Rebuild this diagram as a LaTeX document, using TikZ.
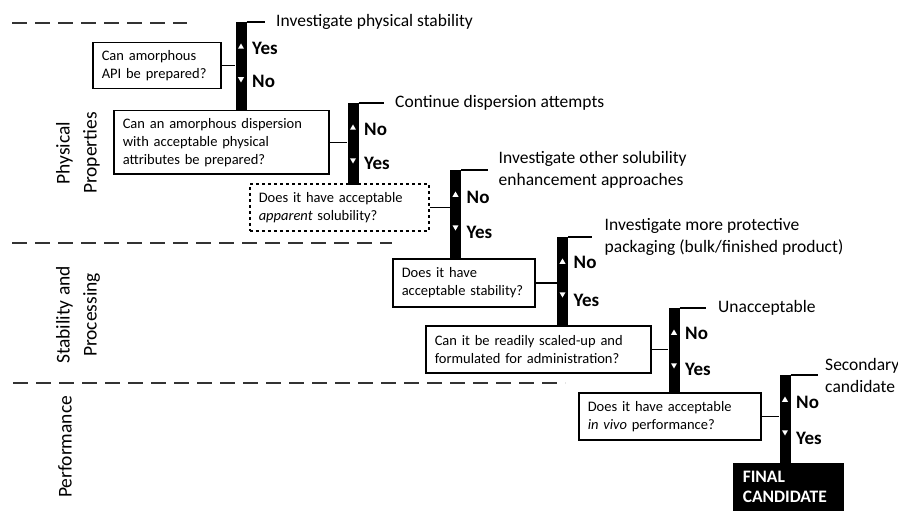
\documentclass[tikz,border=0pt]{standalone}
\usepackage{fontspec}
\setmainfont{Carlito}
\usetikzlibrary{positioning,shapes.geometric}
\definecolor{mygray}{rgb}{0.2, 0.2, 0.2}

\tikzset{
  qbox/.style={draw, line width=1.5pt, anchor=north west, align=left, inner xsep=9pt,
    font=\fontsize{14.5}{18}\selectfont},
  bar/.style={fill=black, minimum width=11pt, inner sep=0pt, anchor=north},
  link/.style={line width=1.5pt},
  result/.style={anchor=west, align=left, font=\fontsize{17.5}{22}\selectfont},
  ans/.style={anchor=west, font=\bfseries\fontsize{19}{19}\selectfont},
  tup/.style={regular polygon, regular polygon sides=3, fill=white, minimum size=7pt, inner sep=0pt},
  tdown/.style={tup, shape border rotate=180},
  section/.style={rotate=90, align=center, font=\fontsize{19.5}{27}\selectfont},
  split/.style={dashed, dash pattern=on 15pt off 8pt, line width=2pt, mygray}
}

\begin{document}
\begin{tikzpicture}[x=1pt, y=-1pt]
    \useasboundingbox (0,0) rectangle (898,511);

    % section borders and titles
    \draw[split] (12,23) -- (187,23);
    \draw[split] (12,243) -- (392,243);
    \draw[split] (13,383) -- (565,383);
    \node[section] (phys) at (78,153) {Physical\\Properties};
    \node[section] (stab) at (78,315) {Stability and\\Processing};
    \node[section] (perf) at (65,447) {Performance};

    % questions
    \node[qbox, minimum width=128pt, minimum height=46pt, text width=110pt] (q1) at (92,42)
        {Can amorphous\\API be prepared?};
    \node[qbox, minimum width=215pt, minimum height=63pt, text width=197pt] (q2) at (113,110)
        {Can an amorphous dispersion\\with acceptable physical\\attributes be prepared?};
    \node[qbox, dashed, minimum width=179pt, minimum height=47pt, text width=161pt] (q3) at (249,183)
        {Does it have acceptable\\\textit{apparent} solubility?};
    \node[qbox, minimum width=142pt, minimum height=48pt, text width=124pt] (q4) at (392,258)
        {Does it have\\acceptable stability?};
    \node[qbox, minimum width=225pt, minimum height=47pt, text width=207pt] (q5) at (425,325)
        {Can it be readily scaled-up and\\formulated for administration?};
    \node[qbox, minimum width=182pt, minimum height=47pt, text width=164pt] (q6) at (578,392)
        {Does it have acceptable\\\textit{in vivo} performance?};
    \node[qbox, fill=black, text=white, minimum width=109pt, minimum height=47pt, text width=91pt,
        font=\bfseries\fontsize{17.5}{20}\selectfont] (final) at (733,463) {FINAL\\CANDIDATE};

    % decision bars
    \node[bar, minimum height=88pt] (b1) at (241,22) {};
    \node[bar, minimum height=82pt] (b2) at (353,103) {};
    \node[bar, minimum height=88pt] (b3) at (455.5,170) {};
    \node[bar, minimum height=88pt] (b4) at (562.5,237) {};
    \node[bar, minimum height=84pt] (b5) at (674,308) {};
    \node[bar, minimum height=88pt] (b6) at (785,375) {};

    % question to bar
    \draw[link] (q1.east) -- (q1.east -| b1.west);
    \draw[link] (q2.east) -- (q2.east -| b2.west);
    \draw[link] (q3.east) -- (q3.east -| b3.west);
    \draw[link] (q4.east) -- (q4.east -| b4.west);
    \draw[link] (q5.east) -- (q5.east -| b5.west);
    \draw[link] (q6.east) -- (q6.east -| b6.west);

    % outcomes
    \draw[link] (b1.north east) -- ++(18,0) coordinate (e1);
    \draw[link] (b2.north east) -- ++(25,0) coordinate (e2);
    \draw[link] (b3.north east) -- ++(27,0) coordinate (e3);
    \draw[link] (b4.north east) -- ++(24,0) coordinate (e4);
    \draw[link] (b5.north east) -- ++(26,0) coordinate (e5);
    \draw[link] (b6.north east) -- ++(27,0) coordinate (e6);
    \node[result, right=8pt of e1] (o1) {Investigate physical stability};
    \node[result, right=8pt of e2] (o2) {Continue dispersion attempts};
    \node[result, right=7pt of e3] (o3) {Investigate other solubility\\enhancement approaches};
    \node[result, right=9pt of e4] (o4) {Investigate more protective\\packaging (bulk/finished product)};
    \node[result, right=9pt of e5] (o5) {Unacceptable};
    \node[result, right=4pt of e6] (o6) {Secondary\\candidate};

    % arrows in the bars
    \node[tup] (u1) at ([yshift=-25pt]b1.north) {};
    \node[tdown] (d1) at ([yshift=-57pt]b1.north) {};
    \node[tup] (u2) at ([yshift=-25pt]b2.north) {};
    \node[tdown] (d2) at ([yshift=-57pt]b2.north) {};
    \node[tup] (u3) at ([yshift=-25pt]b3.north) {};
    \node[tdown] (d3) at ([yshift=-57pt]b3.north) {};
    \node[tup] (u4) at ([yshift=-25pt]b4.north) {};
    \node[tdown] (d4) at ([yshift=-57pt]b4.north) {};
    \node[tup] (u5) at ([yshift=-25pt]b5.north) {};
    \node[tdown] (d5) at ([yshift=-57pt]b5.north) {};
    \node[tup] (u6) at ([yshift=-25pt]b6.north) {};
    \node[tdown] (d6) at ([yshift=-57pt]b6.north) {};

    % answers
    \node[ans] (y1) at ([xshift=2pt,yshift=-26pt]b1.north east) {Yes};
    \node[ans] (n1) at ([xshift=2pt,yshift=-59pt]b1.north east) {No};
    \node[ans] (n2) at ([xshift=2pt,yshift=-26pt]b2.north east) {No};
    \node[ans] (y2) at ([xshift=2pt,yshift=-60pt]b2.north east) {Yes};
    \node[ans] (n3) at ([xshift=2pt,yshift=-27pt]b3.north east) {No};
    \node[ans] (y3) at ([xshift=2pt,yshift=-62pt]b3.north east) {Yes};
    \node[ans] (n4) at ([xshift=2pt,yshift=-25pt]b4.north east) {No};
    \node[ans] (y4) at ([xshift=2pt,yshift=-63pt]b4.north east) {Yes};
    \node[ans] (n5) at ([xshift=2pt,yshift=-25pt]b5.north east) {No};
    \node[ans] (y5) at ([xshift=2pt,yshift=-61pt]b5.north east) {Yes};
    \node[ans] (n6) at ([xshift=2pt,yshift=-27pt]b6.north east) {No};
    \node[ans] (y6) at ([xshift=2pt,yshift=-63pt]b6.north east) {Yes};

\end{tikzpicture}
\end{document}
